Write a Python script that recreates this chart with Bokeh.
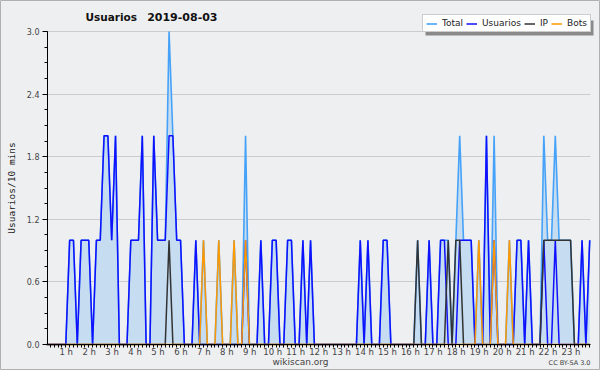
import numpy as np
from bokeh.plotting import figure
from bokeh.models import (ColumnDataSource, Range1d, FixedTicker, PrintfTickFormatter,
                          Legend, LegendItem, Label, BoxAnnotation)
from bokeh.embed import file_html
from bokeh.resources import INLINE

# ---- data: values per 10-minute interval (6 per hour), 00:00 .. 23:40 ----
total = [
    0, 0, 0, 0, 0, 0,   1, 1, 0, 1, 1, 1,   0, 1, 1, 2, 2, 1,   2, 0, 0, 0, 1, 1,
    1, 2, 0, 0, 2, 1,   1, 1, 3, 2, 1, 1,   0, 0, 0, 1, 0, 1,   0, 0, 0, 1, 0, 0,
    0, 1, 0, 0, 2, 0,   0, 0, 1, 0, 0, 1,   1, 0, 0, 1, 1, 0,   0, 1, 0, 1, 0, 0,
    0, 0, 0, 0, 0, 0,   0, 0, 0, 0, 1, 0,   1, 0, 0, 0, 1, 1,   0, 0, 0, 0, 0, 0,
    0, 1, 0, 0, 1, 0,   0, 1, 1, 1, 0, 1,   2, 1, 1, 1, 0, 1,   0, 2, 0, 2, 0, 0,
    0, 1, 0, 1, 1, 0,   1, 0, 0, 0, 2, 1,   1, 2, 1, 1, 1, 1,   0, 0, 1, 0, 1,
]
usuarios = [
    0, 0, 0, 0, 0, 0,   1, 1, 0, 1, 1, 1,   0, 1, 1, 2, 2, 1,   2, 0, 0, 0, 1, 1,
    1, 2, 0, 0, 2, 1,   1, 1, 2, 2, 1, 1,   0, 0, 0, 1, 0, 0,   0, 0, 0, 0, 0, 0,
    0, 0, 0, 0, 1, 0,   0, 0, 1, 0, 0, 1,   1, 0, 0, 1, 1, 0,   0, 1, 0, 1, 0, 0,
    0, 0, 0, 0, 0, 0,   0, 0, 0, 0, 1, 0,   1, 0, 0, 0, 1, 1,   0, 0, 0, 0, 0, 0,
    0, 0, 0, 0, 1, 0,   0, 1, 1, 0, 0, 0,   1, 1, 1, 1, 0, 0,   0, 2, 0, 1, 0, 0,
    0, 0, 0, 1, 1, 0,   1, 0, 0, 0, 1, 0,   0, 1, 0, 0, 0, 0,   0, 0, 1, 0, 1,
]
ip = [
    0, 0, 0, 0, 0, 0,   0, 0, 0, 0, 0, 0,   0, 0, 0, 0, 0, 0,   0, 0, 0, 0, 0, 0,
    0, 0, 0, 0, 0, 0,   0, 0, 1, 0, 0, 0,   0, 0, 0, 0, 0, 0,   0, 0, 0, 0, 0, 0,
    0, 0, 0, 0, 0, 0,   0, 0, 0, 0, 0, 0,   0, 0, 0, 0, 0, 0,   0, 0, 0, 0, 0, 0,
    0, 0, 0, 0, 0, 0,   0, 0, 0, 0, 0, 0,   0, 0, 0, 0, 0, 0,   0, 0, 0, 0, 0, 0,
    0, 1, 0, 0, 0, 0,   0, 0, 0, 1, 0, 1,   1, 0, 0, 0, 0, 0,   0, 0, 0, 0, 0, 0,
    0, 0, 0, 0, 0, 0,   0, 0, 0, 0, 1, 1,   1, 1, 1, 1, 1, 1,   0, 0, 0, 0, 0,
]
bots = [
    0, 0, 0, 0, 0, 0,   0, 0, 0, 0, 0, 0,   0, 0, 0, 0, 0, 0,   0, 0, 0, 0, 0, 0,
    0, 0, 0, 0, 0, 0,   0, 0, 0, 0, 0, 0,   0, 0, 0, 0, 0, 1,   0, 0, 0, 1, 0, 0,
    0, 1, 0, 0, 1, 0,   0, 0, 0, 0, 0, 0,   0, 0, 0, 0, 0, 0,   0, 0, 0, 0, 0, 0,
    0, 0, 0, 0, 0, 0,   0, 0, 0, 0, 0, 0,   0, 0, 0, 0, 0, 0,   0, 0, 0, 0, 0, 0,
    0, 0, 0, 0, 0, 0,   0, 0, 0, 0, 0, 0,   0, 0, 0, 0, 0, 1,   0, 0, 0, 1, 0, 0,
    0, 1, 0, 0, 0, 0,   0, 0, 0, 0, 0, 0,   0, 0, 0, 0, 0, 0,   0, 0, 0, 0, 0,
]
hours = list(range(1, 24))
hour_labels = [f"{h} h" for h in hours]
y_ticks = [0.0, 0.6, 1.2, 1.8, 2.4, 3.0]
legend_labels = ["Total", "Usuarios", "IP", "Bots"]
title_word, title_date = "Usuarios", "2019-08-03"

C_TOTAL = "#45a2f8"
C_FILL = "#c6dcf0"
C_USERS = "#1010ff"
C_IP = "#333333"
C_BOTS = "#ff9900"
FONT = "DejaVu Sans"
BG = "#eeeff1"

n = len(total)
x = np.arange(n)  # index of 10-minute interval
src = ColumnDataSource(dict(x=x, total=total, usuarios=usuarios, ip=ip, bots=bots))

X0, X1 = 0.21, 142.2          # visible axis extent (interval index)
p = figure(width=600, height=370, output_backend="svg", toolbar_location=None,
           title=None, x_range=Range1d(-12.08, 144.82), y_range=Range1d(-0.249, 3.297),
           min_border_left=0, min_border_right=0, min_border_top=0, min_border_bottom=0)
p.border_fill_color = BG
p.background_fill_color = BG
p.outline_line_color = "#b0b0b0"

r_fill = p.varea(x="x", y1=0, y2="total", source=src, fill_color=C_FILL, fill_alpha=1.0)
r_total = p.line("x", "total", source=src, line_color=C_TOTAL, line_width=1.6)
r_users = p.line("x", "usuarios", source=src, line_color=C_USERS, line_width=1.5)
r_ip = p.line("x", "ip", source=src, line_color=C_IP, line_width=1.5)
r_bots = p.line("x", "bots", source=src, line_color=C_BOTS, line_width=1.5)

# x axis: hour labels, one tick every 10 minutes
label_pos = [6 * h - 0.9 for h in hours]
xa = p.xaxis[0]
xa.fixed_location = 0
xa.bounds = (X0, X1)
xa.ticker = FixedTicker(ticks=label_pos, minor_ticks=list(range(1, n)))
xa.major_label_overrides = {pos: lab for pos, lab in zip(label_pos, hour_labels)}
xa.major_tick_out = 0
xa.major_tick_in = 0
xa.minor_tick_out = 3
xa.minor_tick_in = 0
xa.major_label_standoff = -1
xa.major_label_text_font = FONT
xa.major_label_text_font_size = "8.5px"
xa.major_label_text_color = "#444444"
xa.axis_line_color = "black"
xa.minor_tick_line_color = "black"
p.xgrid.visible = False

# y axis
ya = p.yaxis[0]
ya.fixed_location = X0
ya.bounds = (0, 3.0)
ya.ticker = FixedTicker(ticks=y_ticks, minor_ticks=[0.15 * k for k in range(21)])
ya.formatter = PrintfTickFormatter(format="%.1f")
ya.major_tick_out = 5
ya.major_tick_in = 0
ya.minor_tick_out = 3
ya.minor_tick_in = 0
ya.major_label_standoff = 3
ya.major_label_text_font = FONT
ya.major_label_text_font_size = "8px"
ya.major_label_text_color = "#444444"
ya.axis_label = "Usuarios/10 mins"
ya.axis_label_text_font = "DejaVu Sans Mono"
ya.axis_label_text_font_size = "9.5px"
ya.axis_label_text_font_style = "normal"
ya.axis_label_text_color = "#222222"
ya.axis_label_standoff = 7
ya.axis_line_color = "black"
p.ygrid.ticker = FixedTicker(ticks=y_ticks)
p.ygrid.grid_line_color = "#cccccc"
p.ygrid.cross_bounds = (X0, X1)

# legend shadow (box) + legend
p.add_layout(BoxAnnotation(left=425, right=593, bottom=335, top=350,
                           left_units="screen", right_units="screen",
                           top_units="screen", bottom_units="screen",
                           fill_color="#8a8a8a", fill_alpha=1.0, line_color=None))
legend = Legend(items=[LegendItem(label=l, renderers=[r]) for l, r in
                       zip(legend_labels, [r_total, r_users, r_ip, r_bots])],
                location=(422, 338), orientation="horizontal",
                glyph_width=11, glyph_height=9, label_height=9, label_width=1,
                label_standoff=5, spacing=3, padding=3, margin=0,
                label_text_font=FONT, label_text_font_size="9px",
                background_fill_color="white", background_fill_alpha=1.0,
                border_line_color="#999999", label_text_color="#222222")
p.add_layout(legend)

# title and footer texts
p.add_layout(Label(x=85, y=354, x_units="screen", y_units="screen",
                   text=title_word, text_font=FONT, text_font_style="bold",
                   text_font_size="10.5px", text_baseline="middle", text_align="left",
                   text_color="#111111"))
p.add_layout(Label(x=217, y=354, x_units="screen", y_units="screen",
                   text=title_date, text_font=FONT, text_font_style="bold",
                   text_font_size="11px", text_baseline="middle", text_align="right",
                   text_color="#111111"))
p.add_layout(Label(x=300, y=9, x_units="screen", y_units="screen", text="wikiscan.org",
                   text_font=FONT, text_font_size="9px", text_baseline="middle",
                   text_align="center", text_color="#444444"))
p.add_layout(Label(x=590, y=8, x_units="screen", y_units="screen", text="CC BY-SA 3.0",
                   text_font=FONT, text_font_size="6.5px", text_baseline="middle",
                   text_align="right", text_color="#444444"))

open("out.html", "w").write(file_html(p, INLINE))
